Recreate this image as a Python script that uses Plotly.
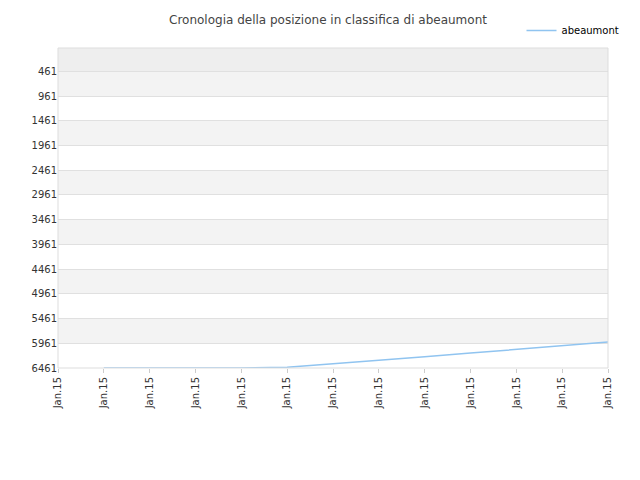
import plotly.graph_objects as go

x_idx = list(range(13))
x_labels = ["Jan.15"] * 13
line_x = [1, 2, 3, 4, 5, 6, 7, 8, 9, 10, 11, 12]
line_y = [6461, 6461, 6461, 6461, 6445, 6380, 6310, 6235, 6160, 6090, 6015, 5935]
y_ticks = [461 + 500 * i for i in range(13)]

fig = go.Figure()
fig.add_trace(go.Scatter(x=line_x, y=line_y, mode="lines", name="abeaumont",
                         line=dict(color="#90c4f0", width=1.5)))

shapes = [dict(type="rect", xref="paper", yref="y", x0=0, x1=1, y0=-11, y1=461,
               fillcolor="#eeeeee", line_width=0, layer="below")]
for i in range(0, 12, 2):
    shapes.append(dict(type="rect", xref="paper", yref="y", x0=0, x1=1,
                       y0=y_ticks[i], y1=y_ticks[i + 1], fillcolor="#f3f3f3",
                       line_width=0, layer="below"))
shapes.append(dict(type="rect", xref="paper", yref="paper", x0=0, x1=1, y0=0, y1=1,
                   line=dict(color="#dddddd", width=1)))

fig.update_layout(
    width=640, height=480, margin=dict(l=50, r=40, t=40, b=120, autoexpand=False),
    paper_bgcolor="white", plot_bgcolor="white",
    font=dict(family="DejaVu Sans", size=10, color="#333"),
    title=dict(text="Cronologia della posizione in classifica di abeaumont",
               x=0.5, xanchor="center", y=0.975, yanchor="middle",
               font=dict(size=12, color="#444")),
    showlegend=True,
    legend=dict(x=1.03, xanchor="right", y=1.1, yanchor="top", font=dict(size=10, color="#000"),
                bgcolor="rgba(0,0,0,0)"),
    shapes=shapes,
    xaxis=dict(range=[0, 12], tickmode="array", tickvals=x_idx, ticktext=x_labels,
               tickangle=-90, showgrid=False, zeroline=False, ticks="outside",
               ticklen=4, tickcolor="#ccc", automargin=False,
               tickfont=dict(size=10, color="#333")),
    yaxis=dict(range=[6461, -11], tickmode="array", tickvals=y_ticks,
               showgrid=True, gridcolor="#e0e0e0", zeroline=False, automargin=False,
               tickfont=dict(size=10, color="#333")),
)
fig.write_html("out.html")
